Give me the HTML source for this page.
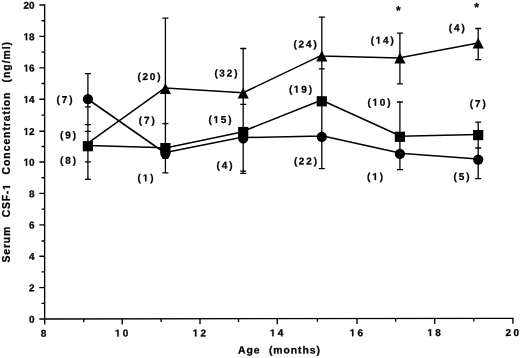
<!DOCTYPE html>
<html><head><meta charset="utf-8"><title>Serum CSF-1 Concentration vs Age</title>
<style>
html,body{margin:0;padding:0;background:#fff;}
body{width:520px;height:358px;overflow:hidden;font-family:"Liberation Sans",sans-serif;}
svg{display:block;filter:blur(0.35px);}
</style></head><body>
<svg width="520" height="358" viewBox="0 0 520 358">
<rect width="520" height="358" fill="#fff"/>
<g stroke="#000" fill="none" stroke-width="1.35">
<path d="M44.65 4.35V319.0L513.55 318.3"/>
<path d="M39.35 319.00H44.65M41.55 303.30H44.65M39.35 287.60H44.65M41.55 271.90H44.65M39.35 256.20H44.65M41.55 241.00H44.65M39.35 224.80H44.65M41.55 209.10H44.65M39.35 193.40H44.65M41.55 177.70H44.65M39.35 162.00H44.65M41.55 146.50H44.65M39.35 131.20H44.65M41.55 115.10H44.65M39.35 99.20H44.65M41.55 83.50H44.65M39.35 67.80H44.65M41.55 52.10H44.65M39.35 36.40H44.65M41.55 20.70H44.65M39.35 5.00H44.65"/>
<path d="M44.70 319.00V324.50M83.70 318.94V322.14M122.25 318.88V324.38M161.10 318.82V322.02M200.00 318.77V324.27M238.50 318.71V321.91M277.25 318.65V324.15M317.40 318.59V321.79M357.00 318.53V324.03M395.70 318.48V321.68M434.70 318.42V323.92M473.80 318.36V321.56M512.90 318.30V323.80"/>
</g>
<path d="M87.9 73.7V179.4M165.4 18.1V172.8M243.2 48.5V173.4M321.8 17.1V168.7M399.9 33.2V83.9M399.9 102.0V169.7M478.2 28.5V59.6M478.2 122.2V178.6" stroke="#000" stroke-width="1.3" fill="none"/>
<path d="M84.9 73.7H90.9M84.9 106.8H90.9M84.9 124.6H90.9M84.9 131.3H90.9M84.9 161.8H90.9M84.9 179.4H90.9M162.4 18.1H168.4M162.4 123.7H168.4M162.4 158.35H168.4M162.4 172.8H168.4M240.2 48.5H246.2M240.2 104.3H246.2M240.2 171.2H246.2M240.2 173.4H246.2M318.8 17.1H324.8M318.8 68.9H324.8M318.8 168.7H324.8M396.9 33.2H402.9M396.9 83.9H402.9M396.9 102.0H402.9M396.9 169.7H402.9M475.2 28.5H481.2M475.2 59.6H481.2M475.2 122.2H481.2M475.2 148.0H481.2M475.2 178.6H481.2" stroke="#000" stroke-width="1.3" fill="none"/>
<g stroke="#000" fill="none" stroke-width="1.55">
<path d="M87.9 99.25L165.4 153.25M165.4 152.4L243.2 136.9M243.2 137.6L321.8 136.0M321.8 135.8L399.9 153.1M399.9 153.3L478.2 158.95M87.9 145.55L165.4 147.8M165.4 147.9L243.2 131.85M243.2 131.2L321.8 100.05M321.8 100.3L399.9 135.7M399.9 136.2L478.2 134.45M87.9 143.2L165.4 87.7M165.4 88.0L243.2 92.8M243.2 92.7L321.8 55.1M321.8 55.9L399.9 58.1M399.9 57.8L478.2 42.9" stroke-linecap="round"/>
</g>
<g fill="#000">
<circle cx="87.9" cy="99.1" r="5.15"/>
<circle cx="165.4" cy="153.5" r="5.15"/>
<circle cx="243.2" cy="138.3" r="5.15"/>
<circle cx="321.8" cy="136.8" r="5.15"/>
<circle cx="399.9" cy="153.8" r="5.15"/>
<circle cx="478.2" cy="159.6" r="5.15"/>
<rect x="82.8" y="141.1" width="10.2" height="10.2"/>
<rect x="160.3" y="143.0" width="10.2" height="10.2"/>
<rect x="238.1" y="126.9" width="10.2" height="10.2"/>
<rect x="316.7" y="96.2" width="10.2" height="10.2"/>
<rect x="394.8" y="131.7" width="10.2" height="10.2"/>
<rect x="473.1" y="130.0" width="10.2" height="10.2"/>
<path d="M165.4 83.0L171.0 93.9H159.8Z"/>
<path d="M243.2 87.7L248.8 98.6H237.6Z"/>
<path d="M321.8 50.5L327.4 61.4H316.2Z"/>
<path d="M399.9 52.6L405.5 63.5H394.3Z"/>
<path d="M478.2 37.7L483.8 48.6H472.6Z"/>
</g>
<g font-family="Liberation Sans, sans-serif" font-weight="bold" fill="#000" stroke="#000" stroke-width="0.26">
<text transform="translate(29.04 322.75) rotate(-0.085)" font-size="10">0</text>
<text transform="translate(29.04 291.35) rotate(-0.085)" font-size="10">2</text>
<text transform="translate(29.04 259.95) rotate(-0.085)" font-size="10">4</text>
<text transform="translate(29.04 228.55) rotate(-0.085)" font-size="10">6</text>
<text transform="translate(29.04 197.15) rotate(-0.085)" font-size="10">8</text>
<path transform="translate(23.48 165.75) rotate(-0.085) scale(0.00488 -0.00488)" d="M478 0V1170L140 959V1180L493 1409H759V0Z" stroke-width="53"/>
<text transform="translate(29.04 165.75) rotate(-0.085)" font-size="10">0</text>
<path transform="translate(23.48 134.95) rotate(-0.085) scale(0.00488 -0.00488)" d="M478 0V1170L140 959V1180L493 1409H759V0Z" stroke-width="53"/>
<text transform="translate(29.04 134.95) rotate(-0.085)" font-size="10">2</text>
<path transform="translate(23.48 102.95) rotate(-0.085) scale(0.00488 -0.00488)" d="M478 0V1170L140 959V1180L493 1409H759V0Z" stroke-width="53"/>
<text transform="translate(29.04 102.95) rotate(-0.085)" font-size="10">4</text>
<path transform="translate(23.48 71.55) rotate(-0.085) scale(0.00488 -0.00488)" d="M478 0V1170L140 959V1180L493 1409H759V0Z" stroke-width="53"/>
<text transform="translate(29.04 71.55) rotate(-0.085)" font-size="10">6</text>
<path transform="translate(23.48 40.15) rotate(-0.085) scale(0.00488 -0.00488)" d="M478 0V1170L140 959V1180L493 1409H759V0Z" stroke-width="53"/>
<text transform="translate(29.04 40.15) rotate(-0.085)" font-size="10">8</text>
<text transform="translate(23.48 8.75) rotate(-0.085)" font-size="10">2</text>
<text transform="translate(29.04 8.75) rotate(-0.085)" font-size="10">0</text>
<text transform="translate(40.85 336.65) rotate(-0.085)" font-size="10">8</text>
<path transform="translate(114.95 336.53) rotate(-0.085) scale(0.00488 -0.00488)" d="M478 0V1170L140 959V1180L493 1409H759V0Z" stroke-width="53"/>
<text transform="translate(122.80 336.53) rotate(-0.085)" font-size="10">0</text>
<path transform="translate(192.70 336.42) rotate(-0.085) scale(0.00488 -0.00488)" d="M478 0V1170L140 959V1180L493 1409H759V0Z" stroke-width="53"/>
<text transform="translate(200.55 336.42) rotate(-0.085)" font-size="10">2</text>
<path transform="translate(269.95 336.30) rotate(-0.085) scale(0.00488 -0.00488)" d="M478 0V1170L140 959V1180L493 1409H759V0Z" stroke-width="53"/>
<text transform="translate(277.80 336.30) rotate(-0.085)" font-size="10">4</text>
<path transform="translate(349.70 336.18) rotate(-0.085) scale(0.00488 -0.00488)" d="M478 0V1170L140 959V1180L493 1409H759V0Z" stroke-width="53"/>
<text transform="translate(357.55 336.18) rotate(-0.085)" font-size="10">6</text>
<path transform="translate(427.40 336.07) rotate(-0.085) scale(0.00488 -0.00488)" d="M478 0V1170L140 959V1180L493 1409H759V0Z" stroke-width="53"/>
<text transform="translate(435.25 336.07) rotate(-0.085)" font-size="10">8</text>
<text transform="translate(505.60 335.95) rotate(-0.085)" font-size="10">2</text>
<text transform="translate(513.45 335.95) rotate(-0.085)" font-size="10">0</text>
<text transform="translate(56.48 102.90) rotate(-0.085)" font-size="10">(</text>
<text transform="translate(61.73 102.90) rotate(-0.085)" font-size="10">7</text>
<text transform="translate(69.23 102.90) rotate(-0.085)" font-size="10">)</text>
<text transform="translate(60.08 138.50) rotate(-0.085)" font-size="10">(</text>
<text transform="translate(65.33 138.50) rotate(-0.085)" font-size="10">9</text>
<text transform="translate(72.83 138.50) rotate(-0.085)" font-size="10">)</text>
<text transform="translate(60.08 163.70) rotate(-0.085)" font-size="10">(</text>
<text transform="translate(65.33 163.70) rotate(-0.085)" font-size="10">8</text>
<text transform="translate(72.83 163.70) rotate(-0.085)" font-size="10">)</text>
<text transform="translate(137.48 80.00) rotate(-0.085)" font-size="10">(</text>
<text transform="translate(142.43 80.00) rotate(-0.085)" font-size="10">2</text>
<text transform="translate(149.83 80.00) rotate(-0.085)" font-size="10">0</text>
<text transform="translate(157.33 80.00) rotate(-0.085)" font-size="10">)</text>
<text transform="translate(138.68 123.80) rotate(-0.085)" font-size="10">(</text>
<text transform="translate(143.93 123.80) rotate(-0.085)" font-size="10">7</text>
<text transform="translate(151.43 123.80) rotate(-0.085)" font-size="10">)</text>
<text transform="translate(137.48 181.30) rotate(-0.085)" font-size="10">(</text>
<path transform="translate(142.73 181.30) rotate(-0.085) scale(0.00488 -0.00488)" d="M478 0V1170L140 959V1180L493 1409H759V0Z" stroke-width="53"/>
<text transform="translate(150.23 181.30) rotate(-0.085)" font-size="10">)</text>
<text transform="translate(214.38 76.60) rotate(-0.085)" font-size="10">(</text>
<text transform="translate(219.33 76.60) rotate(-0.085)" font-size="10">3</text>
<text transform="translate(226.73 76.60) rotate(-0.085)" font-size="10">2</text>
<text transform="translate(234.23 76.60) rotate(-0.085)" font-size="10">)</text>
<text transform="translate(208.48 123.10) rotate(-0.085)" font-size="10">(</text>
<path transform="translate(213.43 123.10) rotate(-0.085) scale(0.00488 -0.00488)" d="M478 0V1170L140 959V1180L493 1409H759V0Z" stroke-width="53"/>
<text transform="translate(220.83 123.10) rotate(-0.085)" font-size="10">5</text>
<text transform="translate(228.33 123.10) rotate(-0.085)" font-size="10">)</text>
<text transform="translate(216.58 168.80) rotate(-0.085)" font-size="10">(</text>
<text transform="translate(221.83 168.80) rotate(-0.085)" font-size="10">4</text>
<text transform="translate(229.33 168.80) rotate(-0.085)" font-size="10">)</text>
<text transform="translate(293.58 47.40) rotate(-0.085)" font-size="10">(</text>
<text transform="translate(298.53 47.40) rotate(-0.085)" font-size="10">2</text>
<text transform="translate(305.93 47.40) rotate(-0.085)" font-size="10">4</text>
<text transform="translate(313.43 47.40) rotate(-0.085)" font-size="10">)</text>
<text transform="translate(288.88 92.70) rotate(-0.085)" font-size="10">(</text>
<path transform="translate(293.83 92.70) rotate(-0.085) scale(0.00488 -0.00488)" d="M478 0V1170L140 959V1180L493 1409H759V0Z" stroke-width="53"/>
<text transform="translate(301.23 92.70) rotate(-0.085)" font-size="10">9</text>
<text transform="translate(308.73 92.70) rotate(-0.085)" font-size="10">)</text>
<text transform="translate(293.88 164.50) rotate(-0.085)" font-size="10">(</text>
<text transform="translate(298.83 164.50) rotate(-0.085)" font-size="10">2</text>
<text transform="translate(306.23 164.50) rotate(-0.085)" font-size="10">2</text>
<text transform="translate(313.73 164.50) rotate(-0.085)" font-size="10">)</text>
<text transform="translate(370.68 43.70) rotate(-0.085)" font-size="10">(</text>
<path transform="translate(375.63 43.70) rotate(-0.085) scale(0.00488 -0.00488)" d="M478 0V1170L140 959V1180L493 1409H759V0Z" stroke-width="53"/>
<text transform="translate(383.03 43.70) rotate(-0.085)" font-size="10">4</text>
<text transform="translate(390.53 43.70) rotate(-0.085)" font-size="10">)</text>
<text transform="translate(367.48 105.70) rotate(-0.085)" font-size="10">(</text>
<path transform="translate(372.43 105.70) rotate(-0.085) scale(0.00488 -0.00488)" d="M478 0V1170L140 959V1180L493 1409H759V0Z" stroke-width="53"/>
<text transform="translate(379.83 105.70) rotate(-0.085)" font-size="10">0</text>
<text transform="translate(387.33 105.70) rotate(-0.085)" font-size="10">)</text>
<text transform="translate(367.08 180.10) rotate(-0.085)" font-size="10">(</text>
<path transform="translate(372.33 180.10) rotate(-0.085) scale(0.00488 -0.00488)" d="M478 0V1170L140 959V1180L493 1409H759V0Z" stroke-width="53"/>
<text transform="translate(379.83 180.10) rotate(-0.085)" font-size="10">)</text>
<text transform="translate(448.68 31.20) rotate(-0.085)" font-size="10">(</text>
<text transform="translate(453.93 31.20) rotate(-0.085)" font-size="10">4</text>
<text transform="translate(461.43 31.20) rotate(-0.085)" font-size="10">)</text>
<text transform="translate(469.68 106.90) rotate(-0.085)" font-size="10">(</text>
<text transform="translate(474.93 106.90) rotate(-0.085)" font-size="10">7</text>
<text transform="translate(482.43 106.90) rotate(-0.085)" font-size="10">)</text>
<text transform="translate(453.38 180.10) rotate(-0.085)" font-size="10">(</text>
<text transform="translate(458.63 180.10) rotate(-0.085)" font-size="10">5</text>
<text transform="translate(466.13 180.10) rotate(-0.085)" font-size="10">)</text>
<text transform="translate(398.40 14.60) rotate(-0.085)" font-size="12" text-anchor="middle">*</text>
<text transform="translate(476.50 11.20) rotate(-0.085)" font-size="12" text-anchor="middle">*</text>
<text transform="translate(238.00 353.45) rotate(-0.085)" font-size="10.4" letter-spacing="1.0">Age</text>
<text transform="translate(268.90 353.45) rotate(-0.085)" font-size="10.4" letter-spacing="0.95">(months)</text>
<text transform="translate(10.0 262.5) rotate(-90)" font-size="10.4" letter-spacing="0.85">Serum</text>
<text transform="translate(10.0 217.2) rotate(-90)" font-size="10.4" letter-spacing="0.75">CSF-</text>
<path transform="translate(10.0 189.94) rotate(-90) scale(0.00508 -0.00508)" d="M478 0V1170L140 959V1180L493 1409H759V0Z" stroke-width="51"/>
<text transform="translate(10.0 174.4) rotate(-90)" font-size="10.4" letter-spacing="0.95">Concentration</text>
<text transform="translate(10.0 82.45) rotate(-90)" font-size="10.4" letter-spacing="0.98">(ng/ml)</text>
</g>
</svg>
</body></html>
